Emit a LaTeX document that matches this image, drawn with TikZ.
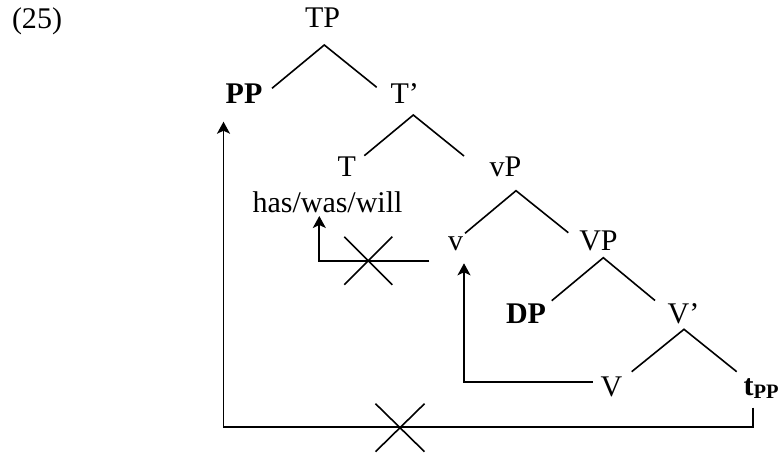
\documentclass[tikz,border=0pt]{standalone}
\usepackage{fontspec}
\setmainfont{Liberation Serif}
\usetikzlibrary{arrows.meta,calc}
\begin{document}
\begin{tikzpicture}[x=1pt,y=-1pt,
  lab/.style={anchor=base,inner sep=0pt,font=\fontsize{30}{36}\selectfont},
  branch/.style={line width=1.6pt},
  mv/.style={line width=1.8pt,-{Stealth[length=12pt,width=13pt,inset=3pt]}},
  xmark/.style={line width=1.6pt}]
\useasboundingbox (0,0) rectangle (778,454);
% labels
\node[lab] (ex) at (37,28.3) {(25)};
\node[lab] (TP) at (322.5,27.5) {TP};
\node[lab] (PP) at (244,103.3) {\textbf{PP}};
\node[lab] (Tbar) at (404.7,103.3) {T’};
\node[lab] (T) at (346.7,176.7) {T};
\node[lab] (vP) at (505.5,177) {vP};
\node[lab] (hww) at (327.5,213) {has/was/will};
\node[lab] (v) at (455.5,250) {v};
\node[lab] (VP) at (598.5,250) {VP};
\node[lab] (DP) at (526,323) {\textbf{DP}};
\node[lab] (Vbar) at (683.5,323) {V’};
\node[lab] (V) at (611.5,396.7) {V};
\node[lab,anchor=base west] (tPP) at (743.3,395.5) {\textbf{t\raisebox{-3pt}{\fontsize{20.5}{24}\selectfont PP}}};
% tree coordinates
\coordinate (aTP) at (324.3,45);
\coordinate (ePP) at (272,88.3);
\coordinate (eTbar) at (376.7,87.3);
\coordinate (aTbar) at (413.3,115);
\coordinate (eT) at (364.3,155.7);
\coordinate (evP) at (464,156);
\coordinate (avP) at (516,190.7);
\coordinate (ev) at (465,233.3);
\coordinate (eVP) at (568.3,232.7);
\coordinate (aVP) at (603.3,257.7);
\coordinate (eDP) at (551.7,300.7);
\coordinate (eVbar) at (655,300.5);
\coordinate (aVbar) at (684,329.3);
\coordinate (eV) at (631.7,371.7);
\coordinate (etPP) at (736.7,371.7);
\draw[branch] (ePP) -- (aTP) -- (eTbar);
\draw[branch] (eT) -- (aTbar) -- (evP);
\draw[branch] (ev) -- (avP) -- (eVP);
\draw[branch] (eDP) -- (aVP) -- (eVbar);
\draw[branch] (eV) -- (aVbar) -- (etPP);
% movement arrows
\coordinate (h1) at (429.3,260.7);
\coordinate (h2) at (319.3,260.7);
\coordinate (h3) at (319.3,216);
\draw[mv] (h1) -- (h2) -- (h3);
\coordinate (x1) at (368.3,260.7);
\draw[xmark] ($(x1)+(-24,-24)$) -- ($(x1)+(24,24)$);
\draw[xmark] ($(x1)+(-24,24)$) -- ($(x1)+(24,-24)$);
\coordinate (w1) at (592.7,382);
\coordinate (w2) at (464,382);
\coordinate (w3) at (464,263.3);
\draw[mv] (w1) -- (w2) -- (w3);
\coordinate (p1) at (752.7,407.5);
\coordinate (p2) at (752.7,426.7);
\coordinate (p3) at (223.5,426.7);
\coordinate (p4) at (223.5,121.7);
\draw[mv] (p1) -- (p2) -- (p3) -- (p4);
\coordinate (x2) at (400,427.7);
\draw[xmark] ($(x2)+(-24.5,-24)$) -- ($(x2)+(24.5,24)$);
\draw[xmark] ($(x2)+(-24.5,24)$) -- ($(x2)+(24.5,-24)$);
\end{tikzpicture}
\end{document}
